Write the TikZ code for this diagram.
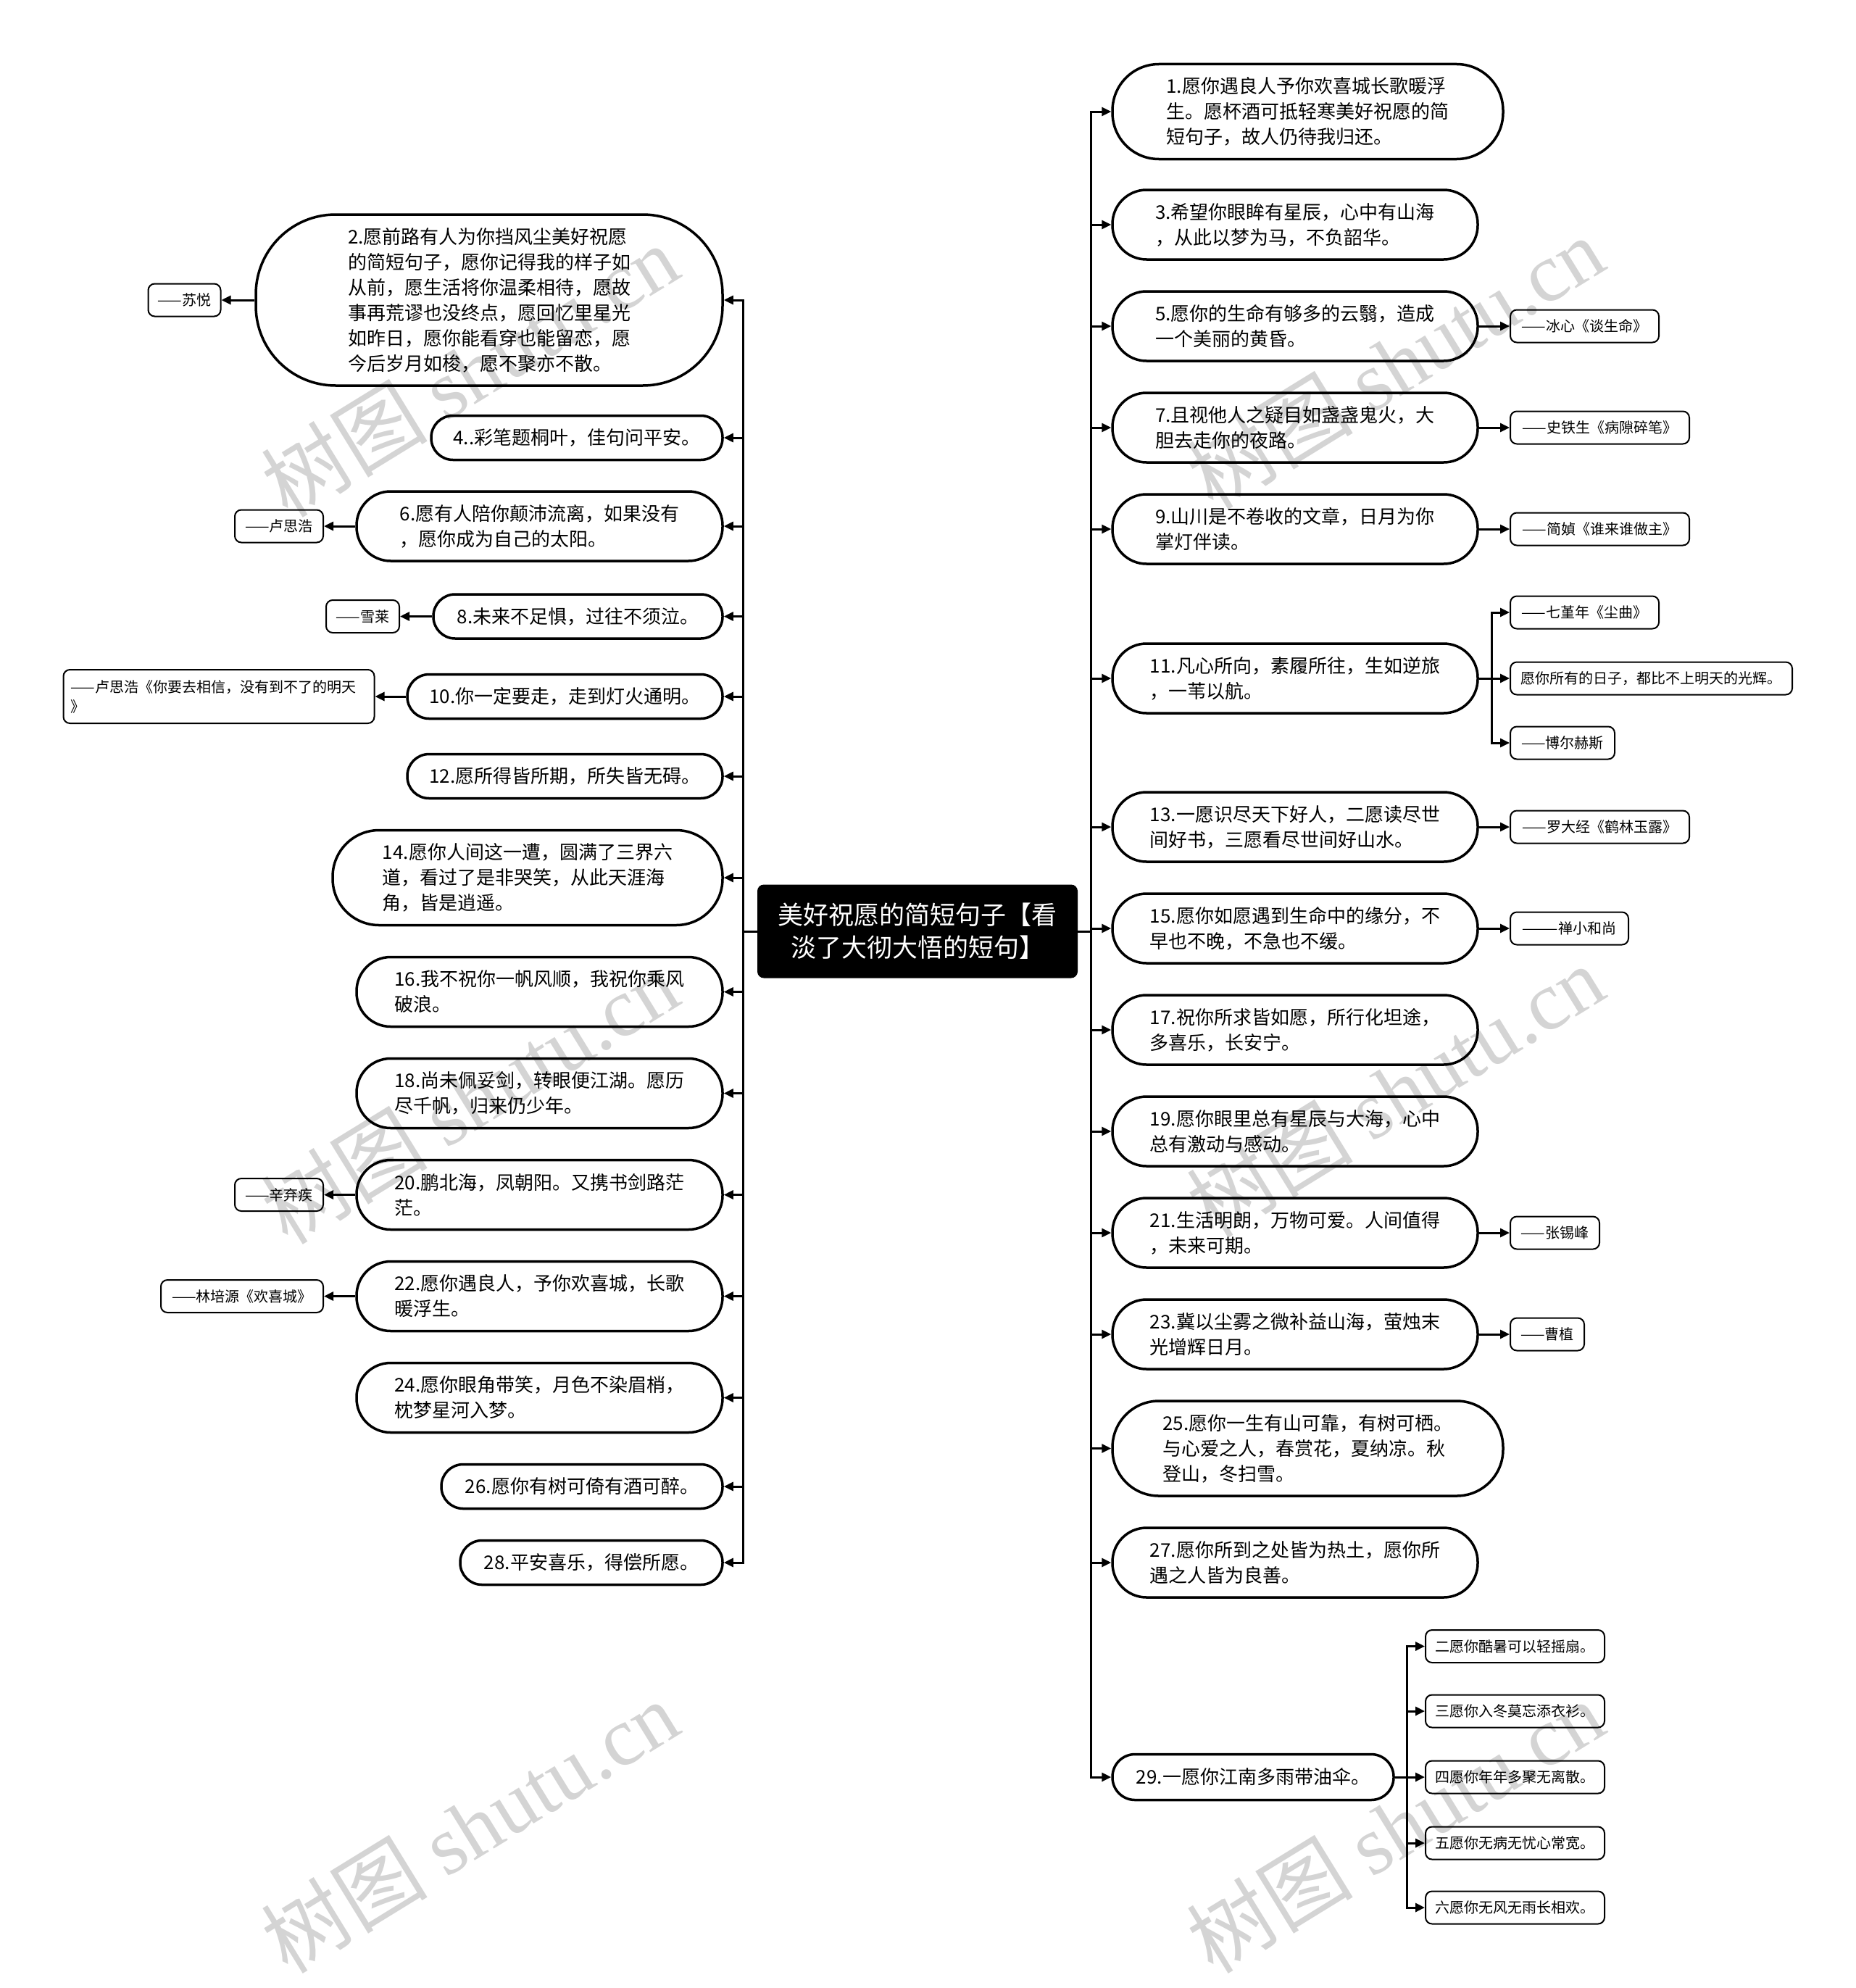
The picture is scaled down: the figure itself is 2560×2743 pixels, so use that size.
\documentclass[tikz,border=0pt]{standalone}
\usepackage{fontspec}
\setmainfont{Noto Sans CJK SC}
\newfontfamily\wmlat{Liberation Serif}
\usetikzlibrary{arrows.meta}
\begin{document}
\begin{tikzpicture}[x=1pt,y=-1pt,
  mbox/.style={draw, line width=3.5pt, inner sep=0pt, align=left, font=\fontsize{26}{35}\selectfont},
  lbox/.style={draw, line width=2pt, inner sep=0pt, rounded corners=9pt, align=left, minimum height=45pt, font=\fontsize{20}{27}\selectfont},
  arr/.style={line width=3pt, -{Triangle[length=13pt,width=12pt]}},
  wm/.style={text=black!17, font=\fontsize{115}{115}\selectfont, rotate=31.6, inner sep=0pt}]
\fill[white] (0,0) rectangle (2560,2743);
\useasboundingbox (0,0) rectangle (2560,2743);
% watermarks
\node[wm] (w1) at (648,511) {树图 {\wmlat shutu.cn}};
\node[wm] (w2) at (1925,500) {树图 {\wmlat shutu.cn}};
\node[wm] (w3) at (648,1514) {树图 {\wmlat shutu.cn}};
\node[wm] (w4) at (1925,1505) {树图 {\wmlat shutu.cn}};
\node[wm] (w5) at (648,2520) {树图 {\wmlat shutu.cn}};
\node[wm] (w6) at (1925,2520) {树图 {\wmlat shutu.cn}};
% central
\node[fill=black, rounded corners=9pt, minimum width=442pt, minimum height=129pt, inner sep=0pt, text=white, align=center, font=\fontsize{35}{45}\selectfont] (C) at (1266,1285) {美好祝愿的简短句子【看\\淡了大彻大悟的短句】};
\coordinate (LT) at (1025,1285);
\coordinate (RT) at (1505,1285);
% left nodes
\node[mbox, minimum width=644pt, minimum height=236pt, rounded corners=110pt] (n2) at (675,414) {2.愿前路有人为你挡风尘美好祝愿\\的简短句子，愿你记得我的样子如\\从前，愿生活将你温柔相待，愿故\\事再荒谬也没终点，愿回忆里星光\\如昨日，愿你能看穿也能留恋，愿\\今后岁月如梭，愿不聚亦不散。};
\node[mbox, minimum width=402pt, minimum height=61pt, rounded corners=30pt] (n4) at (796,604) {4..彩笔题桐叶，佳句问平安。};
\node[mbox, minimum width=505pt, minimum height=96pt, rounded corners=47pt] (n6) at (744.5,726) {6.愿有人陪你颠沛流离，如果没有\\，愿你成为自己的太阳。};
\node[mbox, minimum width=399pt, minimum height=61pt, rounded corners=30pt] (n8) at (797.5,850.5) {8.未来不足惧，过往不须泣。};
\node[mbox, minimum width=435pt, minimum height=61pt, rounded corners=30pt] (n10) at (779.5,961) {10.你一定要走，走到灯火通明。};
\node[mbox, minimum width=435pt, minimum height=61pt, rounded corners=30pt] (n12) at (779.5,1071) {12.愿所得皆所期，所失皆无碍。};
\node[mbox, minimum width=538pt, minimum height=131pt, rounded corners=64pt] (n14) at (728,1211) {14.愿你人间这一遭，圆满了三界六\\道，看过了是非哭笑，从此天涯海\\角，皆是逍遥。};
\node[mbox, minimum width=505pt, minimum height=96pt, rounded corners=47pt] (n16) at (744.5,1368.5) {16.我不祝你一帆风顺，我祝你乘风\\破浪。};
\node[mbox, minimum width=505pt, minimum height=96pt, rounded corners=47pt] (n18) at (744.5,1508.5) {18.尚未佩妥剑，转眼便江湖。愿历\\尽千帆，归来仍少年。};
\node[mbox, minimum width=505pt, minimum height=96pt, rounded corners=47pt] (n20) at (744.5,1648.5) {20.鹏北海，凤朝阳。又携书剑路茫\\茫。};
\node[mbox, minimum width=505pt, minimum height=96pt, rounded corners=47pt] (n22) at (744.5,1788.5) {22.愿你遇良人，予你欢喜城，长歌\\暖浮生。};
\node[mbox, minimum width=505pt, minimum height=96pt, rounded corners=47pt] (n24) at (744.5,1928.5) {24.愿你眼角带笑，月色不染眉梢，\\枕梦星河入梦。};
\node[mbox, minimum width=388pt, minimum height=61pt, rounded corners=30pt] (n26) at (803,2051) {26.愿你有树可倚有酒可醉。};
\node[mbox, minimum width=362pt, minimum height=61pt, rounded corners=30pt] (n28) at (816,2156) {28.平安喜乐，得偿所愿。};
% right nodes
\node[mbox, minimum width=539pt, minimum height=131pt, rounded corners=64pt] (n1) at (1804.5,154) {1.愿你遇良人予你欢喜城长歌暖浮\\生。愿杯酒可抵轻寒美好祝愿的简\\短句子，故人仍待我归还。};
\node[mbox, minimum width=504pt, minimum height=96pt, rounded corners=47pt] (n3) at (1787,310) {3.希望你眼眸有星辰，心中有山海\\，从此以梦为马，不负韶华。};
\node[mbox, minimum width=504pt, minimum height=96pt, rounded corners=47pt] (n5) at (1787,450) {5.愿你的生命有够多的云翳，造成\\一个美丽的黄昏。};
\node[mbox, minimum width=504pt, minimum height=96pt, rounded corners=47pt] (n7) at (1787,590) {7.且视他人之疑目如盏盏鬼火，大\\胆去走你的夜路。};
\node[mbox, minimum width=504pt, minimum height=96pt, rounded corners=47pt] (n9) at (1787,730) {9.山川是不卷收的文章，日月为你\\掌灯伴读。};
\node[mbox, minimum width=504pt, minimum height=96pt, rounded corners=47pt] (n11) at (1787,936) {11.凡心所向，素履所往，生如逆旅\\，一苇以航。};
\node[mbox, minimum width=504pt, minimum height=96pt, rounded corners=47pt] (n13) at (1787,1141) {13.一愿识尽天下好人，二愿读尽世\\间好书，三愿看尽世间好山水。};
\node[mbox, minimum width=504pt, minimum height=96pt, rounded corners=47pt] (n15) at (1787,1281) {15.愿你如愿遇到生命中的缘分，不\\早也不晚，不急也不缓。};
\node[mbox, minimum width=504pt, minimum height=96pt, rounded corners=47pt] (n17) at (1787,1421) {17.祝你所求皆如愿，所行化坦途，\\多喜乐，长安宁。};
\node[mbox, minimum width=504pt, minimum height=96pt, rounded corners=47pt] (n19) at (1787,1561) {19.愿你眼里总有星辰与大海，心中\\总有激动与感动。};
\node[mbox, minimum width=504pt, minimum height=96pt, rounded corners=47pt] (n21) at (1787,1701) {21.生活明朗，万物可爱。人间值得\\，未来可期。};
\node[mbox, minimum width=504pt, minimum height=96pt, rounded corners=47pt] (n23) at (1787,1841) {23.冀以尘雾之微补益山海，萤烛末\\光增辉日月。};
\node[mbox, minimum width=539pt, minimum height=131pt, rounded corners=64pt] (n25) at (1804.5,1998.5) {25.愿你一生有山可靠，有树可栖。\\与心爱之人，春赏花，夏纳凉。秋\\登山，冬扫雪。};
\node[mbox, minimum width=504pt, minimum height=96pt, rounded corners=47pt] (n27) at (1787,2156) {27.愿你所到之处皆为热土，愿你所\\遇之人皆为良善。};
\node[mbox, minimum width=388pt, minimum height=63pt, rounded corners=31pt] (n29) at (1729,2452) {29.一愿你江南多雨带油伞。};
% left labels
\node[lbox, minimum width=100pt] (lsu) at (254.5,414) {——苏悦};
\node[lbox, minimum width=122pt] (llu) at (385,726) {——卢思浩};
\node[lbox, minimum width=101pt] (lxue) at (500.5,850.5) {——雪莱};
\node[lbox, minimum width=429pt, minimum height=74pt, text width=409pt] (llu2) at (302,961) {——卢思浩《你要去相信，没有到不了的明天\\》};
\node[lbox, minimum width=122pt] (lxin) at (385,1648.5) {——辛弃疾};
\node[lbox, minimum width=224pt] (llin) at (334,1788.5) {——林培源《欢喜城》};
% right labels
\node[lbox, minimum width=205pt] (l5) at (2186.5,450) {——冰心《谈生命》};
\node[lbox, minimum width=247pt] (l7) at (2207.5,590) {——史铁生《病隙碎笔》};
\node[lbox, minimum width=247pt] (l9) at (2207.5,730) {——简媜《谁来谁做主》};
\node[lbox, minimum width=205pt] (l11a) at (2186.5,845) {——七堇年《尘曲》};
\node[lbox, minimum width=389pt] (l11b) at (2278.5,936) {愿你所有的日子，都比不上明天的光辉。};
\node[lbox, minimum width=144pt] (l11c) at (2156,1025) {——博尔赫斯};
\node[lbox, minimum width=247pt] (l13) at (2207.5,1141) {——罗大经《鹤林玉露》};
\node[lbox, minimum width=163pt] (l15) at (2165.5,1281) {———禅小和尚};
\node[lbox, minimum width=123pt] (l21) at (2145.5,1701) {——张锡峰};
\node[lbox, minimum width=102pt] (l23) at (2135,1841) {——曹植};
\node[lbox, minimum width=247pt] (s2) at (2090.5,2271.5) {二愿你酷暑可以轻摇扇。};
\node[lbox, minimum width=247pt] (s3) at (2090.5,2361) {三愿你入冬莫忘添衣衫。};
\node[lbox, minimum width=247pt] (s4) at (2090.5,2452) {四愿你年年多聚无离散。};
\node[lbox, minimum width=247pt] (s5) at (2090.5,2543) {五愿你无病无忧心常宽。};
\node[lbox, minimum width=247pt] (s6) at (2090.5,2632) {六愿你无风无雨长相欢。};
% trunk connectors
\foreach \n in {n2,n4,n6,n8,n10,n12,n14,n16,n18,n20,n22,n24,n26,n28}
  \draw[arr] (C.west) -- (LT) |- (\n.east);
\foreach \n in {n1,n3,n5,n7,n9,n11,n13,n15,n17,n19,n21,n23,n25,n27,n29}
  \draw[arr] (C.east) -- (RT) |- (\n.west);
% left label connectors
\draw[arr] (n2.west) -- (lsu.east);
\draw[arr] (n6.west) -- (llu.east);
\draw[arr] (n8.west) -- (lxue.east);
\draw[arr] (n10.west) -- (llu2.east);
\draw[arr] (n20.west) -- (lxin.east);
\draw[arr] (n22.west) -- (llin.east);
% right label connectors
\draw[arr] (n5.east) -- (l5.west);
\draw[arr] (n7.east) -- (l7.west);
\draw[arr] (n9.east) -- (l9.west);
\draw[arr] (n13.east) -- (l13.west);
\draw[arr] (n15.east) -- (l15.west);
\draw[arr] (n21.east) -- (l21.west);
\draw[arr] (n23.east) -- (l23.west);
\coordinate (J11) at (2058,936);
\foreach \n in {l11a,l11b,l11c}
  \draw[arr] (n11.east) -- (J11) |- (\n.west);
\coordinate (J29) at (1941,2452);
\foreach \n in {s2,s3,s4,s5,s6}
  \draw[arr] (n29.east) -- (J29) |- (\n.west);
\end{tikzpicture}
\end{document}
